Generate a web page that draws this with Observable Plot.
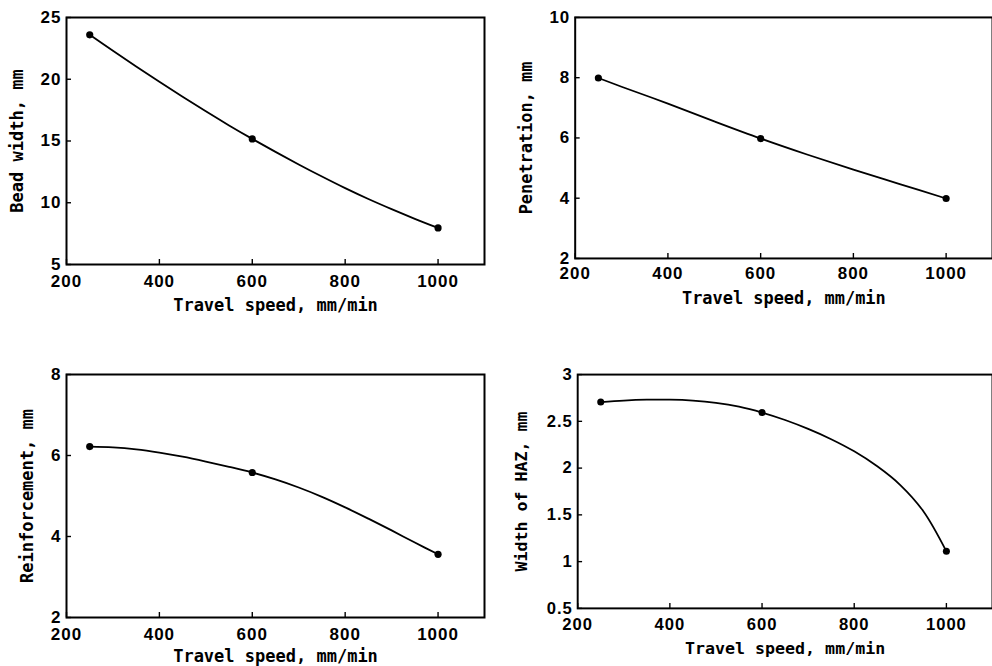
<!DOCTYPE html>
<html>
<head>
<meta charset="utf-8">
<script src="https://cdn.jsdelivr.net/npm/d3@7"></script>
<script src="https://cdn.jsdelivr.net/npm/@observablehq/plot@0.6"></script>
<style>
  html, body { margin: 0; padding: 0; background: #fff; width: 992px; height: 666px; overflow: hidden; position: relative; }
  .panel { position: absolute; }
  .panel svg { overflow: visible; }
  g[aria-label="x-axis tick label"], g[aria-label="y-axis tick label"],
  g[aria-label="x-axis tick label"] text, g[aria-label="y-axis tick label"] text {
    letter-spacing: 1px; font-weight: bold !important; font-family: 'Liberation Sans', Arial, Helvetica, sans-serif;
  }
</style>
</head>
<body>
<script>
const speed = [250, 600, 1000];                // travel speed, mm/min
const beadWidth = [23.6, 15.17, 7.96];         // mm
const penetration = [7.99, 5.98, 3.99];        // mm
const reinforcement = [6.22, 5.58, 3.56];      // mm
const hazWidth = [2.706, 2.594, 1.11];         // mm

// ---- drawn curves ----
const beadCurveX = [250, 300, 350, 400, 450, 500, 550, 600, 650, 700, 750, 800, 850, 900, 950, 1000];
const beadCurveY = [23.6, 22.30, 21.03, 19.79, 18.58, 17.40, 16.26, 15.17, 14.12, 13.10, 12.12, 11.18, 10.30, 9.48, 8.70, 7.96];
const penCurveX = [250, 300, 400, 500, 600, 700, 800, 900, 1000];
const penCurveY = [7.99, 7.70, 7.14, 6.55, 5.98, 5.45, 4.95, 4.47, 3.99];
const reinCurveX = [250, 300, 350, 400, 450, 500, 550, 600, 650, 700, 750, 800, 850, 900, 950, 1000];
const reinCurveY = [6.22, 6.20, 6.15, 6.07, 5.97, 5.85, 5.72, 5.58, 5.41, 5.21, 4.98, 4.72, 4.44, 4.15, 3.85, 3.56];
const hazCurveX = [250, 300, 350, 400, 450, 500, 550, 600, 650, 700, 750, 800, 850, 900, 950, 1000];
const hazCurveY = [2.706, 2.722, 2.731, 2.732, 2.722, 2.698, 2.657, 2.594, 2.514, 2.419, 2.309, 2.179, 2.019, 1.819, 1.539, 1.11];

const xTicks = [200, 400, 600, 800, 1000];
const beadTicks = [5, 10, 15, 20, 25];
const penTicks = [2, 4, 6, 8, 10];
const reinTicks = [2, 4, 6, 8];
const hazTicks = [0.5, 1, 1.5, 2, 2.5, 3];

const xLabel = "Travel speed, mm/min";
const yLabels = ["Bead width, mm", "Penetration, mm", "Reinforcement, mm", "Width of HAZ, mm"];

const panels = [
  {left: 0, top: 0, width: 496, height: 333, mt: 17, mr: 12, mb: 69, ml: 66,
   y: beadWidth, cx: beadCurveX, cy: beadCurveY, yDomain: [5, 25], yTicks: beadTicks, yLabel: yLabels[0],
   yLabelDx: -49, xTickPad: 10, xLabelDy: 41},
  {left: 496, top: 0, width: 498, height: 333, mt: 17, mr: 0, mb: 74, ml: 79,
   y: penetration, cx: penCurveX, cy: penCurveY, yDomain: [2, 10], yTicks: penTicks, yLabel: yLabels[1],
   yLabelDx: -49, xTickPad: 9, xLabelDy: 40},
  {left: 0, top: 333, width: 496, height: 333, mt: 41, mr: 12, mb: 49, ml: 66,
   y: reinforcement, cx: reinCurveX, cy: reinCurveY, yDomain: [2, 8], yTicks: reinTicks, yLabel: yLabels[2],
   yLabelDx: -39, xTickPad: 10, xLabelDy: 39},
  {left: 496, top: 333, width: 507, height: 333, mt: 42, mr: 0, mb: 52, ml: 83,
   y: hazWidth, cx: hazCurveX, cy: hazCurveY, yDomain: [0.5, 3], yTicks: hazTicks, yLabel: yLabels[3],
   yLabelDx: -57, xTickPad: 10, xLabelDy: 41}
];

const tickFont = "'Liberation Sans', Arial, Helvetica, sans-serif";
const labelFont = "'DejaVu Sans Mono', 'Liberation Mono', monospace";

for (const p of panels) {
  const pts = speed.map((s, i) => ({speed: s, value: p.y[i]}));
  const curve = p.cx.map((s, i) => ({speed: s, value: p.cy[i]}));
  const innerH = p.height - p.mt - p.mb;
  const innerW = p.width - p.ml - p.mr;
  const chart = Plot.plot({
    width: p.width,
    height: p.height,
    marginTop: p.mt, marginRight: p.mr, marginBottom: p.mb, marginLeft: p.ml,
    style: {background: "transparent", color: "#000", fontFamily: tickFont, fontSize: "17px", overflow: "visible"},
    x: {domain: [200, 1100]},
    y: {domain: p.yDomain},
    marks: [
      Plot.axisX({ticks: xTicks, tickSize: 0, tickPadding: p.xTickPad, tickFormat: d => String(d), label: null,
                  fontSize: 17, fontWeight: "bold", fill: "#000"}),
      Plot.axisY({ticks: p.yTicks, tickSize: 0, tickPadding: 5, tickFormat: d => String(d), label: null,
                  fontSize: 17, fontWeight: "bold", fill: "#000"}),
      // inward tick marks
      Plot.tickX(xTicks, {x: d => d, insetTop: innerH - 5, stroke: "#000", strokeWidth: 1.4}),
      Plot.tickY(p.yTicks, {y: d => d, insetRight: innerW - 5, stroke: "#000", strokeWidth: 1.4}),
      // axis titles
      Plot.text([xLabel], {text: d => d, frameAnchor: "bottom", lineAnchor: "middle", textAnchor: "middle",
                           dy: p.xLabelDy, fontFamily: labelFont, fontSize: 17, fontWeight: "bold", fill: "#000"}),
      Plot.text([p.yLabel], {text: d => d, frameAnchor: "left", lineAnchor: "middle", textAnchor: "middle",
                             rotate: -90, dx: p.yLabelDx, fontFamily: labelFont, fontSize: 17, fontWeight: "bold", fill: "#000"}),
      Plot.frame({stroke: "#000", strokeWidth: 2}),
      Plot.line(curve, {x: "speed", y: "value", curve: "catmull-rom", stroke: "#000", strokeWidth: 1.8}),
      Plot.dot(pts, {x: "speed", y: "value", r: 3.6, fill: "#000", stroke: "none"})
    ]
  });
  const div = document.createElement("div");
  div.className = "panel";
  div.style.left = p.left + "px";
  div.style.top = p.top + "px";
  div.appendChild(chart);
  document.body.appendChild(div);
}
</script>
</body>
</html>
